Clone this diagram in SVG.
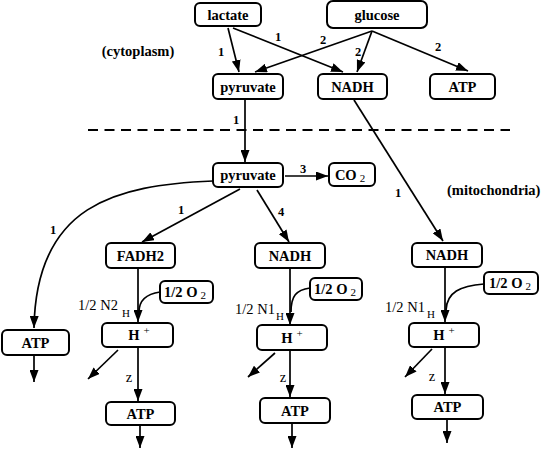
<svg xmlns="http://www.w3.org/2000/svg" width="543" height="450" viewBox="0 0 543 450" font-family="Liberation Serif, Times New Roman, serif">
<defs>
<marker id="ah" markerUnits="userSpaceOnUse" markerWidth="13" markerHeight="9" refX="12" refY="4.5" orient="auto">
<path d="M0,0 L12,4.5 L0,9 z" fill="#000"/>
</marker>
</defs>
<style>
rect.n{fill:#fff;stroke:#000;stroke-width:2}
text{font-family:Liberation Serif, Times New Roman, serif;fill:#000}
.t{font-size:14.5px;font-weight:bold}
.l{font-size:12.5px;font-weight:bold}
.r{font-size:14.5px;font-weight:normal}
.s{font-size:11px;font-weight:normal}
.c{fill:none;stroke:#000;stroke-width:1.7}
.a{marker-end:url(#ah)}
</style>
<rect width="543" height="450" fill="#fff"/>
<g id="connectors">
<line x1="88" y1="130" x2="510" y2="130" stroke="#000" stroke-width="2" stroke-dasharray="10 6.5"/>
<path class="c a" d="M228,28 L239,72"/>
<path class="c a" d="M233,28 L343,72"/>
<path class="c a" d="M372,31 L255,72"/>
<path class="c a" d="M372,31 L357,72"/>
<path class="c a" d="M372,31 L468,71"/>
<path class="c a" d="M245,99 L245,162"/>
<path class="c a" d="M354,100 L443,241"/>
<path class="c a" d="M285,176 L328,176"/>
<path class="c a" d="M240,189 L142,242"/>
<path class="c a" d="M257,190 L289,242"/>
<path class="c a" d="M213,181 C115,185 36,205 34,328"/>
<path class="c a" d="M34,356 L34,382"/>
<path class="c a" d="M138,268 L138,322"/>
<path class="c" d="M160,292 C146,294 139,300 139,312"/>
<path class="c a" d="M138,347 L138,401"/>
<path class="c a" d="M118,350 L88,379"/>
<path class="c a" d="M140,425 L140,448"/>
<path class="c a" d="M290,268 L290,325"/>
<path class="c" d="M310,288 C296,290 291,296 291,312"/>
<path class="c a" d="M290,350 L290,397"/>
<path class="c a" d="M275,353 L248,377"/>
<path class="c a" d="M292,423 L292,448"/>
<path class="c a" d="M445,267 L445,322"/>
<path class="c" d="M484,284 C460,286 447,292 446,310"/>
<path class="c a" d="M445,347 L445,394"/>
<path class="c a" d="M432,349 L405,377"/>
<path class="c a" d="M447,419 L447,443"/>
<g text-anchor="middle">
<text class="l" x="221" y="56">1</text>
<text class="l" x="278" y="41">1</text>
<text class="l" x="323" y="44">2</text>
<text class="l" x="358" y="56">2</text>
<text class="l" x="438" y="51">2</text>
<text class="l" x="236" y="124">1</text>
<text class="l" x="303" y="173">3</text>
<text class="l" x="281" y="216">4</text>
<text class="l" x="181" y="214">1</text>
<text class="l" x="53" y="234">1</text>
<text class="l" x="398" y="197">1</text>
<text class="r" x="129" y="382">z</text>
<text class="r" x="283" y="382">z</text>
<text class="r" x="432" y="381">z</text>
</g>
<text class="r" x="78" y="310">1/2 N2<tspan class="s" dx="4" dy="7">H</tspan></text>
<text class="r" x="235" y="314">1/2 N1<tspan class="s" dx="1" dy="6">H</tspan></text>
<text class="r" x="385" y="312">1/2 N1<tspan class="s" dx="2" dy="6">H</tspan></text>
</g>
<g id="cytoplasm-label"><text class="t" x="138" y="56" text-anchor="middle">(cytoplasm)</text></g>
<g id="mitochondria-label"><text class="t" x="447" y="195">(mitochondria)</text></g>
<g text-anchor="middle">
<g id="lactate"><rect class="n" x="195" y="3" width="66" height="23" rx="5"/><text class="t" x="228" y="19.5">lactate</text></g>
<g id="glucose"><rect class="n" x="327" y="1" width="100" height="27" rx="6"/><text class="t" x="377" y="19.5">glucose</text></g>
<g id="pyruvate1"><rect class="n" x="213" y="74" width="70" height="25" rx="5"/><text class="t" x="248" y="91.5">pyruvate</text></g>
<g id="nadh1"><rect class="n" x="318" y="74" width="69" height="25" rx="5"/><text class="t" x="352.5" y="91.5">NADH</text></g>
<g id="atp1"><rect class="n" x="430" y="74" width="65" height="25" rx="5"/><text class="t" x="462.5" y="91.5">ATP</text></g>
<g id="pyruvate2"><rect class="n" x="213" y="163" width="70" height="24" rx="5"/><text class="t" x="248" y="180">pyruvate</text></g>
<g id="co2"><rect class="n" x="329" y="163" width="46" height="23" rx="5"/><text class="t" x="350" y="180">CO<tspan class="s" dx="3" dy="2">2</tspan></text></g>
<g id="fadh2"><rect class="n" x="106" y="243" width="69" height="25" rx="5"/><text class="t" x="140.5" y="260.5">FADH2</text></g>
<g id="nadh2"><rect class="n" x="255" y="243" width="70" height="25" rx="5"/><text class="t" x="290" y="260.5">NADH</text></g>
<g id="nadh3"><rect class="n" x="412" y="243" width="70" height="24" rx="5"/><text class="t" x="447" y="260">NADH</text></g>
<g id="o2-1"><rect class="n" x="160" y="281" width="53" height="22" rx="5"/><text class="t" x="185" y="297">1/2 O<tspan class="s" dx="3" dy="2">2</tspan></text></g>
<g id="o2-2"><rect class="n" x="310" y="278" width="52" height="22" rx="5"/><text class="t" x="335" y="294">1/2 O<tspan class="s" dx="3" dy="2">2</tspan></text></g>
<g id="o2-3"><rect class="n" x="484" y="272" width="54" height="22" rx="5"/><text class="t" x="510" y="288">1/2 O<tspan class="s" dx="3" dy="2">2</tspan></text></g>
<g id="hplus1"><rect class="n" x="102" y="323" width="71" height="24" rx="5"/><text class="t" x="139" y="340">H<tspan class="s" dx="4" dy="-6">+</tspan></text></g>
<g id="hplus2"><rect class="n" x="257" y="325" width="70" height="25" rx="5"/><text class="t" x="292" y="342.5">H<tspan class="s" dx="4" dy="-6">+</tspan></text></g>
<g id="hplus3"><rect class="n" x="409" y="323" width="70" height="24" rx="5"/><text class="t" x="444" y="340">H<tspan class="s" dx="4" dy="-6">+</tspan></text></g>
<g id="atp-left"><rect class="n" x="2" y="330" width="67" height="25" rx="5"/><text class="t" x="35.5" y="347.5">ATP</text></g>
<g id="atp2"><rect class="n" x="106" y="402" width="69" height="23" rx="5"/><text class="t" x="140.5" y="418.5">ATP</text></g>
<g id="atp3"><rect class="n" x="260" y="398" width="70" height="25" rx="5"/><text class="t" x="295" y="415.5">ATP</text></g>
<g id="atp4"><rect class="n" x="412" y="395" width="71" height="24" rx="5"/><text class="t" x="447.5" y="412">ATP</text></g>
</g>
</svg>
